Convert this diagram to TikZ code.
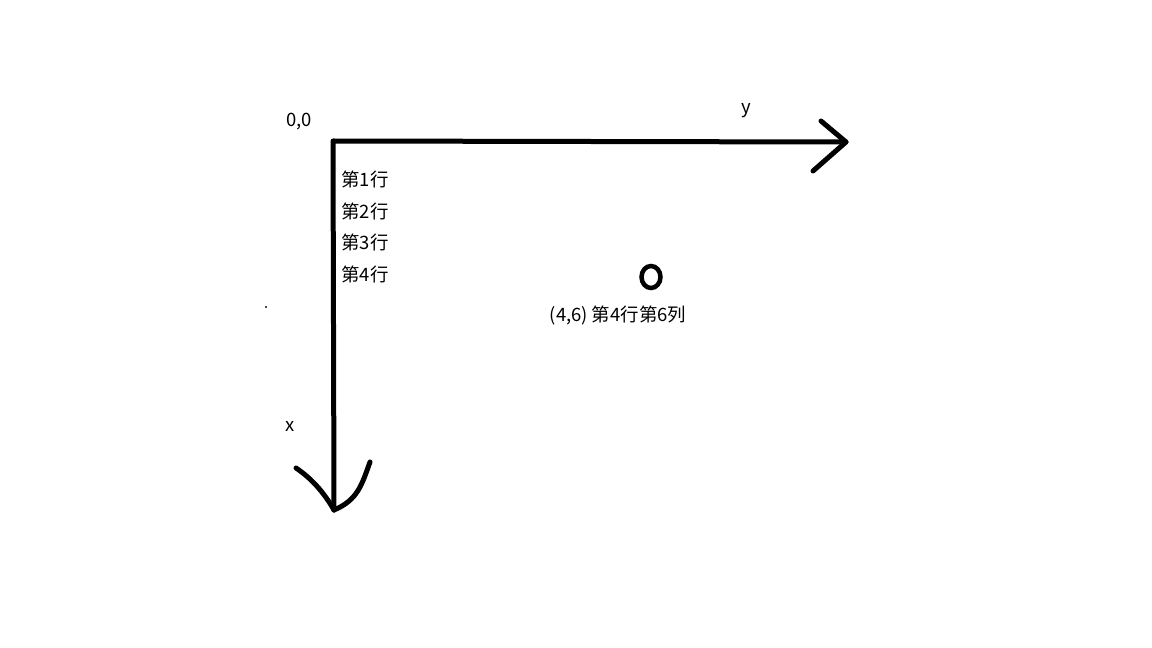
\documentclass[tikz,border=0pt]{standalone}
\usepackage{fontspec}
\setmainfont{Noto Sans CJK SC}
\usepackage{tikz}
\usetikzlibrary{arrows.meta,shapes.geometric}

\begin{document}
\begin{tikzpicture}[x=0.02cm,y=-0.02cm,
  axis/.style={line width=0.1cm,line cap=round,line join=round},
  lbl/.style={inner sep=0pt,font=\fontsize{10.5}{12}\selectfont}]
  \useasboundingbox (0,0) rectangle (1152,648);
  \coordinate (o) at (333,141);
  \coordinate (ytip) at (846,142);
  \coordinate (xtip) at (334,510);
  \draw[axis] (ytip) -- (o) -- (xtip);
  % hand-drawn arrow heads
  \draw[axis] (821,121) -- (ytip) -- (813,171);
  \draw[axis] (296,468) .. controls (314,480) and (326,496) .. (xtip);
  \draw[axis] (370,462) .. controls (362,484) and (358,500) .. (xtip);
  \node[lbl] (orig) at (299,122) {0,0};
  \node[lbl] (ylbl) at (746,111) {y};
  \node[lbl] (xlbl) at (290,426) {x};
  \node[lbl,anchor=west] (r1) at (341,179) {第1行};
  \node[lbl,anchor=west] (r2) at (341,211) {第2行};
  \node[lbl,anchor=west] (r3) at (341,242) {第3行};
  \node[lbl,anchor=west] (r4) at (341,274) {第4行};
  \node[ellipse,draw,line width=0.09cm,minimum width=0.38cm,minimum height=0.44cm,inner sep=0pt] (pt) at (651,277) {};
  \node[lbl] (ptlbl) at (618,316) {(4,6) 第4行第6列};
  \fill[black!70] (265,306) rectangle (267,308);
\end{tikzpicture}
\end{document}
